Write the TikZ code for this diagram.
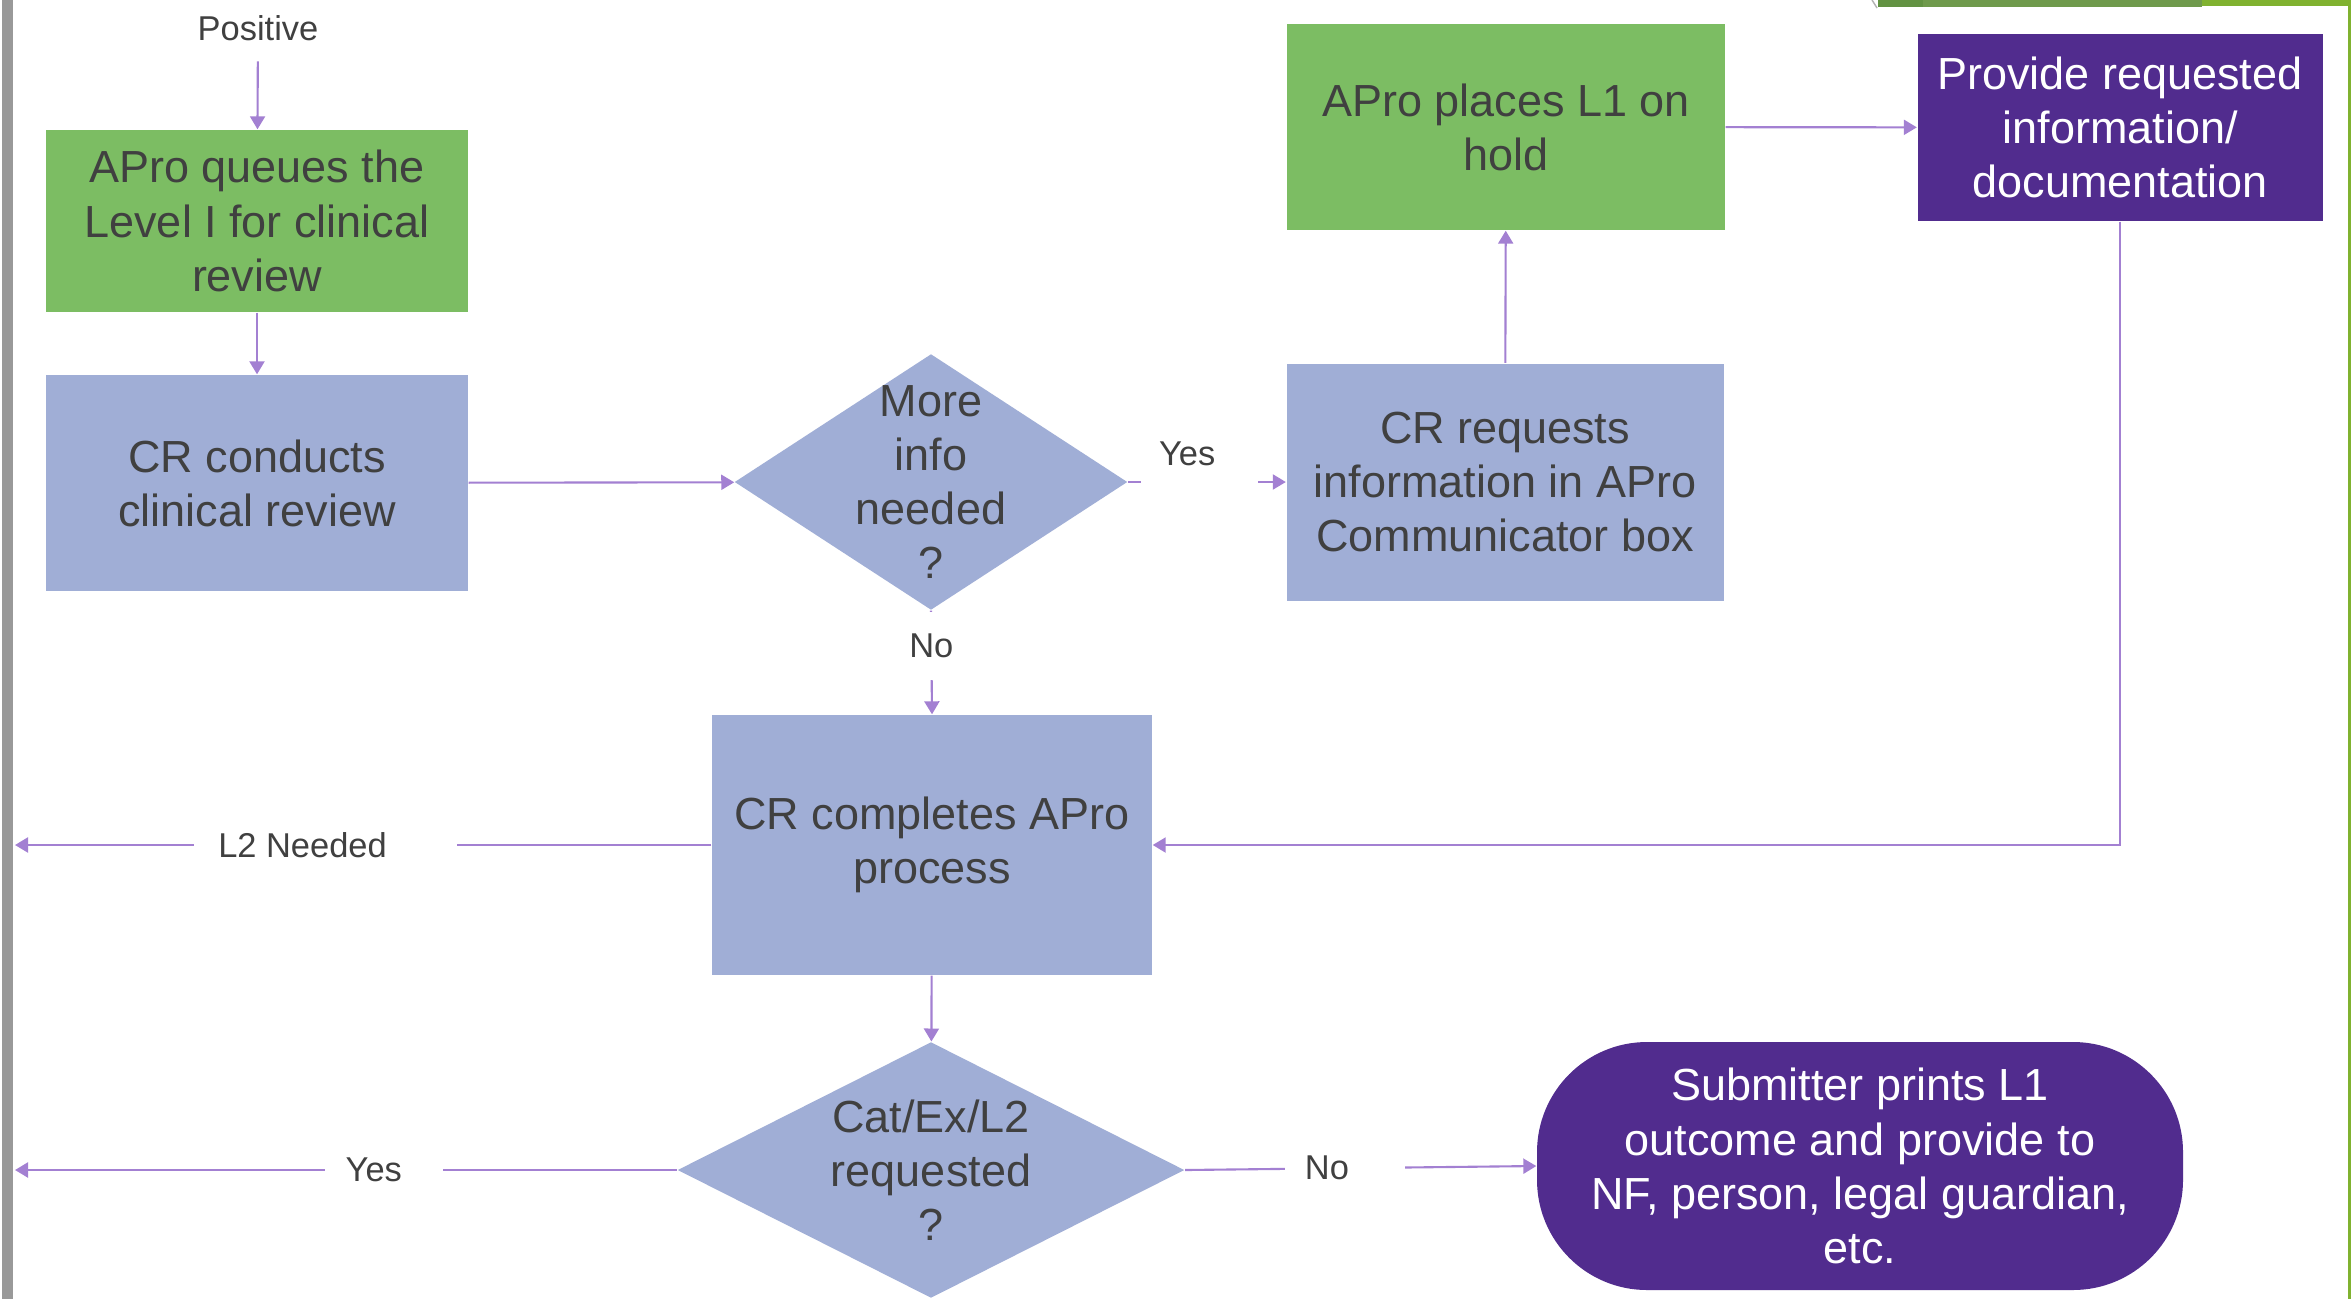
\documentclass[tikz,border=0pt]{standalone}
\usepackage{fontspec}
\setmainfont{Liberation Sans}
\usetikzlibrary{arrows.meta,positioning,shapes.geometric}
\definecolor{crblue}{RGB}{160,174,214}
\definecolor{crgreen}{RGB}{124,189,99}
\definecolor{crpurple}{RGB}{81,44,142}
\definecolor{crline}{RGB}{163,128,210}
\definecolor{crtext}{RGB}{64,64,64}
\definecolor{crgrey}{RGB}{153,153,153}
\definecolor{bargreen}{RGB}{111,154,76}
\definecolor{bardark}{RGB}{98,146,66}
\definecolor{barlime}{RGB}{128,178,48}

\begin{document}
\begin{tikzpicture}[
  boxfont/.style={font=\fontsize{12.8}{15.4}\selectfont, align=center},
  stepbox/.style={boxfont, fill=crblue, text=crtext, inner sep=0pt},
  greenbox/.style={stepbox, fill=crgreen},
  purplebox/.style={boxfont, fill=crpurple, text=white, inner sep=0pt},
  decision/.style={diamond, fill=crblue, inner sep=0pt},
  lbl/.style={font=\fontsize{9.8}{11.8}\selectfont, text=crtext, fill=white, inner sep=0pt},
  arr/.style={-{Triangle[length=0.13cm,width=0.15cm]}, line width=0.6pt, crline}]
\useasboundingbox (0,0) rectangle (23.51,-12.99);
\fill[white] (0,0) rectangle (23.51,-12.99);
% slide edges
\fill[crgrey] (0.02,0) rectangle (0.13,-12.99);
\fill[barlime] (23.48,0) rectangle (23.51,-12.99);
\fill[bardark] (18.78,0) rectangle (19.23,-0.07);
\fill[bargreen] (19.23,0) rectangle (22.02,-0.07);
\fill[barlime] (22.02,0) rectangle (23.51,-0.06);
\draw[gray!60, line width=0.4pt] (18.72,0) -- (18.77,-0.08);

% boxes
\node[lbl, fill=none] (positive) at (2.58,-0.28) {Positive};
\node[greenbox, minimum width=4.22cm, minimum height=1.82cm] (queue) at (2.57,-2.21)
  {APro queues the\\Level I for clinical\\review};
\node[stepbox, minimum width=4.22cm, minimum height=2.16cm] (review) at (2.57,-4.83)
  {CR conducts\\clinical review};
\node[decision, minimum width=3.93cm, minimum height=2.56cm] (more) at (9.31,-4.82) {};
\node[boxfont, text=crtext, inner sep=0pt] (moretxt) at (more) {More\\info\\needed\\?};
\node[stepbox, minimum width=4.37cm, minimum height=2.37cm] (request) at (15.05,-4.82)
  {CR requests\\information in APro\\Communicator box};
\node[greenbox, minimum width=4.38cm, minimum height=2.06cm] (hold) at (15.06,-1.27)
  {APro places L1 on\\hold};
\node[purplebox, minimum width=4.05cm, minimum height=1.87cm] (provide) at (21.20,-1.275)
  {Provide requested\\information/\\documentation};
\node[stepbox, minimum width=4.40cm, minimum height=2.60cm] (complete) at (9.32,-8.45)
  {CR completes APro\\process};
\node[decision, minimum width=5.07cm, minimum height=2.56cm] (catreq) at (9.31,-11.70) {};
\node[boxfont, text=crtext, inner sep=0pt] (catreqtxt) at (catreq) {Cat/Ex/L2\\requested\\?};
\node[purplebox, rounded corners=1.1cm, minimum width=6.46cm, minimum height=2.48cm] (submit) at (18.60,-11.66)
  {Submitter prints L1\\outcome and provide to\\NF, person, legal guardian,\\etc.};
\coordinate (l2end) at (0.15,-8.45);
\coordinate (yesend) at (0.15,-11.70);

% connectors
\draw[arr, shorten <=0.2cm] (positive) -- (queue);
\draw[arr] (queue) -- (review);
\draw[arr] (review) -- (more);
\draw[arr] (more.east) -- node[lbl, pos=0.45, minimum width=1.17cm, text height=0.25cm, text depth=0.58cm] (yes1) {Yes\rule{0.24cm}{0pt}} (request.west);
\draw[arr] (request) -- (hold);
\draw[arr] (hold) -- (provide);
\draw[arr] (provide.south) |- (complete.east);
\draw[arr] (more.south) -- node[lbl, pos=0.34, minimum height=0.68cm, inner xsep=0.1cm] (no1) {No} (complete.north);
\draw[arr] (complete.west) -- node[lbl, pos=0.554, minimum width=2.63cm, minimum height=0.3cm] (l2lbl) {L2 Needed\rule{0.46cm}{0pt}} (l2end);
\draw[arr] (complete) -- (catreq);
\draw[arr] (catreq.west) -- node[lbl, pos=0.442, minimum width=1.18cm, minimum height=0.3cm] (yes2) {Yes\rule{0.21cm}{0pt}} (yesend);
\draw[arr] (catreq.east) -- node[lbl, pos=0.455, minimum width=1.2cm, minimum height=0.3cm] (no2) {No\rule{0.36cm}{0pt}} (submit.west);
\end{tikzpicture}
\end{document}
